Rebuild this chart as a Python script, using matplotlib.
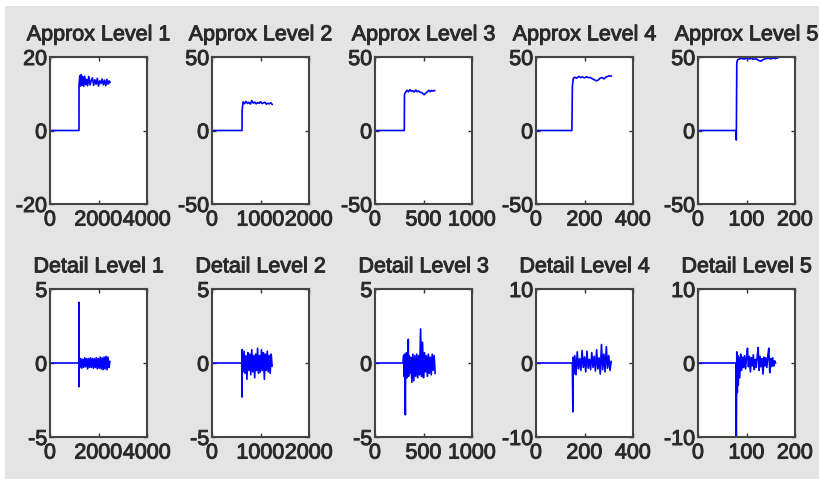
"""Wavelet decomposition panels: approximation and detail coefficients, levels 1-5."""

import matplotlib

matplotlib.use("Agg")
import matplotlib.pyplot as plt
import matplotlib.patheffects as pe
from matplotlib.patches import Rectangle

# ---- approximation coefficients ----
A1_X = [0, 1196, 1197, 1230, 1260, 1290, 1320, 1350, 1390, 1430, 1470, 1510, 1550,
        1600, 1650, 1700, 1750, 1800, 1850, 1900, 1950, 2000, 2050, 2100, 2150, 2200,
        2250, 2300, 2350, 2400, 2440, 2475]
A1_Y = [0, 0, 12.4, 14.9, 12.1, 15.2, 12.3, 14.6, 12.0, 14.8, 12.5, 13.9, 12.2,
        14.7, 12.4, 13.6, 14.3, 12.3, 13.8, 12.6, 14.2, 12.1, 13.5, 12.8, 14.0, 12.4,
        13.7, 12.2, 13.9, 12.6, 13.5, 13.1]

A2_X = [0, 619, 621, 640, 670, 700, 730, 760, 790, 820, 850, 880, 910, 940, 970,
        1000, 1030, 1060, 1090, 1120, 1150, 1180, 1210, 1240]
A2_Y = [0, 0, 13.5, 19.5, 18.2, 19.8, 18.4, 19.1, 18.0, 20.3, 18.6, 19.4, 18.1, 19.0,
        18.5, 19.6, 18.3, 18.8, 19.2, 17.9, 18.6, 18.1, 18.9, 17.8]

A3_X = [0, 302, 304, 315, 330, 345, 360, 375, 390, 405, 420, 435, 450, 465, 480, 495,
        510, 525, 540, 555, 570, 585, 600, 615]
A3_Y = [0, 0, 24.5, 26.0, 27.4, 26.3, 27.8, 26.6, 27.1, 26.2, 27.5, 26.4, 26.9, 26.0,
        25.9, 25.0, 24.4, 25.6, 26.3, 27.4, 26.4, 27.3, 26.8, 27.2]

A4_X = [0, 148, 150, 154, 160, 168, 176, 184, 192, 200, 208, 216, 224, 232, 240, 248,
        256, 264, 272, 280, 288, 296, 304, 310]
A4_Y = [0, 0, 30.0, 35.5, 36.2, 35.6, 36.8, 36.0, 36.4, 35.8, 36.6, 35.9, 36.1, 35.2,
        34.6, 33.8, 34.2, 35.6, 36.0, 35.1, 36.3, 36.8, 37.2, 37.0]

A5_X = [0, 78, 79, 80, 82, 86, 90, 95, 100, 105, 110, 115, 120, 125, 130, 135, 140,
        145, 150, 155, 160, 164]
A5_Y = [0, 0, -6.5, 46.5, 48.2, 48.8, 49.0, 48.6, 49.1, 48.7, 49.0, 48.5, 48.8, 47.6,
        47.2, 48.4, 48.9, 49.1, 48.8, 49.2, 49.0, 49.3]

# ---- detail coefficients ----
D1_X = [0, 1195, 1196, 1197, 1199, 1230, 1270, 1310, 1350, 1390, 1430, 1470, 1510,
        1550, 1590, 1630, 1670, 1710, 1750, 1790, 1830, 1870, 1910, 1950, 1990, 2030,
        2070, 2110, 2150, 2190, 2230, 2270, 2310, 2350, 2390, 2430, 2470]
D1_Y = [0, 0, 4.1, -1.6, 0.3, -0.3, 0.3, -0.35, 0.25, -0.3, 0.35, -0.25, 0.3, -0.4,
        0.3, -0.3, 0.35, -0.3, 0.3, -0.35, 0.3, -0.3, 0.35, -0.4, 0.3, -0.35, 0.4,
        -0.4, 0.35, -0.45, 0.4, -0.4, 0.45, -0.45, 0.4, -0.3, 0.1]

D2_X = [0, 618, 619, 620, 622, 625, 640, 660, 680, 700, 720, 740, 760, 780, 800, 820,
        840, 860, 880, 900, 920, 940, 960, 980, 1000, 1020, 1040, 1060, 1080, 1100,
        1120, 1140, 1160, 1180, 1200, 1220, 1240]
D2_Y = [0, 0, -2.3, 0.9, -0.5, 0.6, -0.6, 0.8, -0.7, 0.5, -1.1, 0.7, -0.5, 0.6, -0.8,
        0.9, -0.6, 0.5, -1.0, 0.6, -0.5, 1.0, -0.7, 0.5, -0.6, 0.9, -0.5, 0.7, -1.1,
        0.6, -0.5, 0.8, -0.6, 0.5, -0.7, 0.6, -0.2]

D3_X = [0, 290, 295, 300, 305, 310, 313, 316, 320, 325, 330, 335, 340, 343, 346, 350,
        360, 370, 380, 390, 400, 410, 420, 430, 440, 450, 460, 470, 480, 490, 500, 510,
        520, 530, 540, 550, 560, 570, 580, 590, 600, 610, 620]
D3_Y = [0, 0, 0.5, -0.9, 0.6, -1.8, -3.5, 0.5, -0.8, 0.7, -1.0, 0.4, -0.6, 1.6, -0.9,
        0.5, -0.7, 0.4, -1.3, 0.6, -1.2, 0.5, -0.9, 0.6, -1.0, 0.5, -0.8, 2.3, -0.9,
        1.4, -1.0, 0.7, -0.6, 0.5, -0.9, 0.6, -0.7, 0.4, -0.8, 0.6, -0.5, 0.5, -0.7]

D4_X = [0, 150, 152, 154, 156, 160, 165, 170, 175, 180, 185, 190, 195, 200, 205, 210,
        215, 220, 225, 230, 235, 240, 245, 250, 255, 260, 265, 270, 275, 280, 285, 290,
        295, 300, 305, 310]
D4_Y = [0, 0, -6.6, 0.8, -1.5, 1.0, -1.6, 1.5, -0.8, 0.6, -1.0, 1.7, -0.6, 0.8, -1.2,
        1.6, -0.7, 0.5, -0.9, 1.4, -0.6, 0.9, -1.1, 1.8, -0.8, 0.7, -1.5, 2.5, -0.9,
        1.2, -1.2, 2.2, -0.7, 1.0, -1.0, 0.2]

D5_X = [0, 78, 79, 80, 81, 82, 83, 84, 86, 88, 90, 92, 94, 96, 98, 100, 102, 104, 106,
        108, 110, 112, 114, 116, 118, 120, 122, 124, 126, 128, 130, 132, 134, 136, 138,
        140, 142, 144, 146, 148, 150, 152, 154, 156, 158, 160]
D5_Y = [0, 0, -11, 1.5, -4.0, 1.0, -3.0, 0.8, -2.0, 1.2, -1.0, 0.8, -0.6, 1.0, -0.8,
        0.6, 2.0, -0.5, 0.9, -1.2, 0.7, -0.4, 1.1, -0.9, 0.5, -0.6, 0.8, 2.1, -1.0,
        0.9, -0.5, 0.6, -1.5, 0.8, -0.4, 0.7, -0.6, 1.0, 2.0, -1.3, 0.6, -0.5, 0.7,
        -0.4, 0.3, 0.0]

LEVELS = [1, 2, 3, 4, 5]
APPROX = [(A1_X, A1_Y), (A2_X, A2_Y), (A3_X, A3_Y), (A4_X, A4_Y), (A5_X, A5_Y)]
DETAIL = [(D1_X, D1_Y), (D2_X, D2_Y), (D3_X, D3_Y), (D4_X, D4_Y), (D5_X, D5_Y)]
X_TICKS = [[0, 2000, 4000], [0, 1000, 2000], [0, 500, 1000], [0, 200, 400], [0, 100, 200]]
APPROX_Y_TICKS = [[-20, 0, 20], [-50, 0, 50], [-50, 0, 50], [-50, 0, 50], [-50, 0, 50]]
DETAIL_Y_TICKS = [[-5, 0, 5], [-5, 0, 5], [-5, 0, 5], [-10, 0, 10], [-10, 0, 10]]

W, H = 819, 489
LEFTS = [50, 212, 375, 536, 698]  # axes left edges, px
AX_W = 97
ROWS = [(58, 205), (290, 438)]  # (top, bottom) px
TEXT = "#2a2a2a"
FS = 15.5
HEAVY = [pe.withStroke(linewidth=0.7, foreground=TEXT)]  # blurred screenshot look

plt.rcParams["font.family"] = ["Liberation Sans", "DejaVu Sans"]
plt.rcParams["axes.unicode_minus"] = False

fig = plt.figure(figsize=(W / 100, H / 100), dpi=100, facecolor="white")
fig.patches.append(Rectangle((5 / W, 9 / H), (W - 5) / W, 473 / H,
                             transform=fig.transFigure, facecolor="#e4e4e4",
                             edgecolor="none", zorder=-10))


def panel(left, row, xs, ys, xticks, yticks, title):
    top, bottom = ROWS[row]
    ax = fig.add_axes([left / W, (H - bottom) / H, AX_W / W, (bottom - top) / H])
    ax.plot(xs, ys, color="#0000ff", lw=1.2)
    ax.set_xlim(xticks[0], xticks[-1])
    ax.set_ylim(yticks[0], yticks[-1])
    ax.set_xticks(xticks)
    ax.set_yticks(yticks)
    ax.tick_params(direction="in", top=True, right=True, length=3, width=1,
                   color="#333333", labelsize=FS, labelcolor=TEXT)
    ax.tick_params(axis="x", pad=4)
    ax.tick_params(axis="y", pad=2)
    for lab in ax.get_xticklabels() + ax.get_yticklabels():
        lab.set_path_effects(HEAVY)
    for sp in ax.spines.values():
        sp.set_color("#444444")
        sp.set_linewidth(1.5)
    t = ax.set_title(title, fontsize=FS, color=TEXT, pad=12)
    t.set_path_effects(HEAVY)
    return ax


for i, lvl in enumerate(LEVELS):
    ax_x, ax_y = APPROX[i]
    panel(LEFTS[i], 0, ax_x, ax_y, X_TICKS[i], APPROX_Y_TICKS[i], f"Approx Level {lvl}")
    d_x, d_y = DETAIL[i]
    panel(LEFTS[i], 1, d_x, d_y, X_TICKS[i], DETAIL_Y_TICKS[i], f"Detail Level {lvl}")

fig.savefig("out.png", dpi=100, facecolor=fig.get_facecolor())
plt.close(fig)
